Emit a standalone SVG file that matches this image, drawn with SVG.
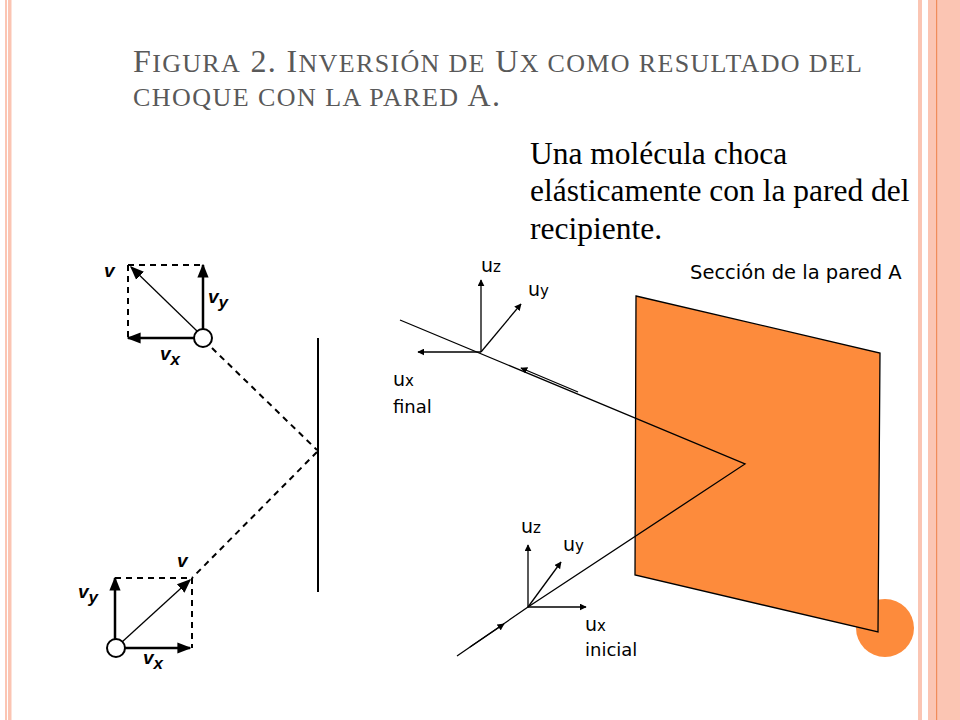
<svg xmlns="http://www.w3.org/2000/svg" width="960" height="720" viewBox="0 0 960 720">
<style>
.t{font-family:"Liberation Serif",serif;fill:#595959}
.b{font-family:"Liberation Serif",serif;font-size:31.5px;fill:#000}
.s{font-family:"DejaVu Sans","Noto Sans",sans-serif;fill:#000}
.v{font-family:"Liberation Sans",sans-serif;font-weight:bold;font-style:italic;font-size:19px;fill:#000}
.ln{stroke:#000;stroke-width:1.3;fill:none}
.dash{stroke:#000;stroke-width:2;stroke-dasharray:6,5;fill:none}
.vec{stroke:#000;stroke-width:2.5;fill:none}
</style>
<defs>
<marker id="ah" viewBox="0 0 10 10" refX="9" refY="5" markerWidth="7" markerHeight="7" orient="auto" markerUnits="userSpaceOnUse"><path d="M0,0L10,5L0,10z" fill="#000"/></marker>
<marker id="big" viewBox="0 0 10 10" refX="9" refY="5" markerWidth="14" markerHeight="14" orient="auto" markerUnits="userSpaceOnUse"><path d="M0,1L10,5L0,9z" fill="#000"/></marker>
</defs>
<rect width="960" height="720" fill="#fff"/>
<rect x="5" y="0" width="2" height="720" fill="#fbc5b3"/>
<rect x="8" y="0" width="3.5" height="720" fill="#fbc5b3"/>
<rect x="918" y="0" width="4" height="720" fill="#fbc5b3"/>
<rect x="928" y="0" width="32" height="720" fill="#fbc5b3"/>
<rect x="936" y="0" width="1.2" height="720" fill="#f08c5a"/>
<text class="t" x="133" y="72" font-size="32" textLength="729" lengthAdjust="spacing">F<tspan font-size="26">IGURA</tspan> 2. I<tspan font-size="26">NVERSIÓN DE</tspan> U<tspan font-size="26">X COMO RESULTADO DEL</tspan></text>
<text class="t" x="133" y="106" font-size="26" textLength="367" lengthAdjust="spacing">CHOQUE CON LA PARED  <tspan font-size="32">A.</tspan></text>
<text class="b" x="530" y="164">Una molécula choca</text>
<text class="b" x="530" y="201">elásticamente  con la pared del</text>
<text class="b" x="530" y="239">recipiente.</text>
<g id="left">
<path class="dash" d="M128,265H203M128,265V338M212,348L317,450M317,452L192,578M115,578H192M192,578V648"/>
<line x1="318" y1="338" x2="318" y2="592" stroke="#000" stroke-width="2"/>
<line class="ln" x1="197" y1="331" x2="131" y2="267" stroke-width="2" marker-end="url(#big)"/>
<line class="vec" x1="203" y1="329" x2="203" y2="265" marker-end="url(#big)"/>
<line class="vec" x1="194" y1="338" x2="128" y2="338" marker-end="url(#big)"/>
<circle cx="203" cy="338" r="9" fill="#fff" stroke="#000" stroke-width="2"/>
<line class="ln" x1="122" y1="642" x2="190" y2="580" stroke-width="2" marker-end="url(#big)"/>
<line class="vec" x1="115" y1="640" x2="115" y2="578" marker-end="url(#big)"/>
<line class="vec" x1="125" y1="648" x2="190" y2="648" marker-end="url(#big)"/>
<circle cx="116" cy="648" r="9" fill="#fff" stroke="#000" stroke-width="2"/>
<text class="v" x="104" y="277">v</text>
<text class="v" x="208" y="303">v<tspan font-size="17" dy="5">y</tspan></text>
<text class="v" x="160" y="360">v<tspan font-size="17" dy="5">x</tspan></text>
<text class="v" x="177" y="567">v</text>
<text class="v" x="78" y="598">v<tspan font-size="17" dy="5">y</tspan></text>
<text class="v" x="143" y="664">v<tspan font-size="17" dy="5">x</tspan></text>
</g>
<g id="wall">
<circle cx="885" cy="628" r="29" fill="#fd8b3c"/>
<polygon points="636,296 880,353 878,632 635,575" fill="#fd8b3c" stroke="#000" stroke-width="1.3"/>
<text class="s" x="690" y="279" font-size="19.5">Sección de la pared A</text>
</g>
<g id="connectors">
<polyline class="ln" points="457,656 528,607 745,464 400,320"/>
<line class="ln" x1="470" y1="647" x2="504" y2="624" marker-end="url(#ah)"/>
<line class="ln" x1="578" y1="392" x2="521" y2="368" stroke-width="2.5" marker-end="url(#ah)"/>
<line class="ln" x1="481" y1="352" x2="481" y2="280" marker-end="url(#ah)"/>
<line class="ln" x1="481" y1="352" x2="521" y2="304" marker-end="url(#ah)"/>
<line class="ln" x1="481" y1="352" x2="418" y2="352" marker-end="url(#ah)"/>
<line class="ln" x1="528" y1="607" x2="528" y2="545" marker-end="url(#ah)"/>
<line class="ln" x1="528" y1="607" x2="561" y2="562" marker-end="url(#ah)"/>
<line class="ln" x1="528" y1="607" x2="586" y2="607" marker-end="url(#ah)"/>
</g>
<g id="labels">
<text class="s" x="481" y="272" font-size="19">u<tspan font-size="15">z</tspan></text>
<text class="s" x="528" y="296" font-size="19">u<tspan font-size="15">y</tspan></text>
<text class="s" x="393" y="386" font-size="19">u<tspan font-size="15">x</tspan></text>
<text class="s" x="393" y="413" font-size="18">final</text>
<text class="s" x="521" y="533" font-size="19">u<tspan font-size="15">z</tspan></text>
<text class="s" x="563" y="551" font-size="19">u<tspan font-size="15">y</tspan></text>
<text class="s" x="585" y="631" font-size="19">u<tspan font-size="15">x</tspan></text>
<text class="s" x="585" y="656" font-size="18">inicial</text>
</g>
</svg>
